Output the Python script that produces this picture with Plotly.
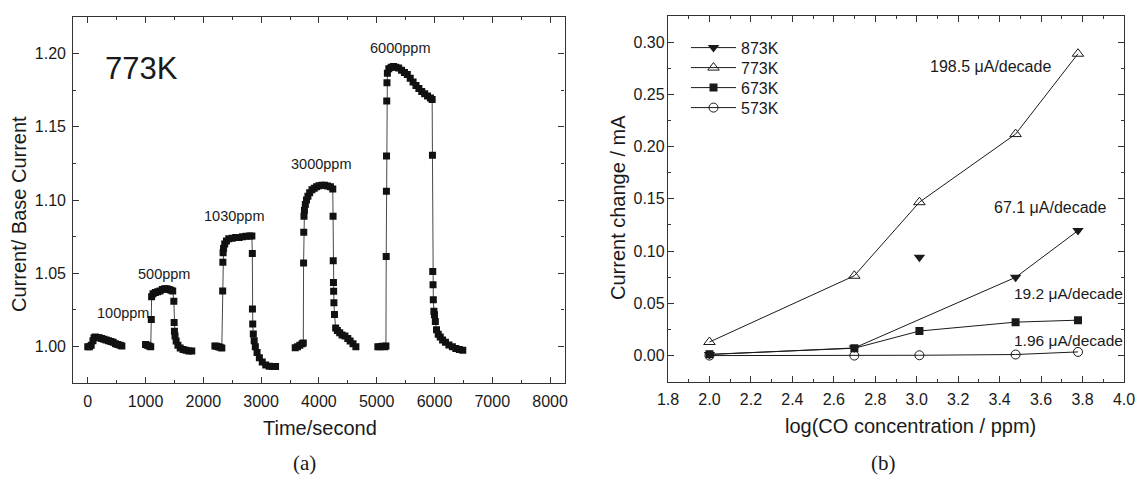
import plotly.graph_objects as go

W, H = 1138, 483

# ---------------- Panel (a): 773K response, time series ----------------
t_100ppm = [0, 30, 60, 90, 110, 130, 160, 200, 240, 280, 320, 360, 400, 440, 480, 520, 560, 590]
r_100ppm = [1.000, 1.000, 1.001, 1.004, 1.006, 1.0065, 1.0063, 1.006, 1.0055, 1.005, 1.0045, 1.004,
            1.0035, 1.003, 1.002, 1.0015, 1.001, 1.0005]

t_500ppm = [1000, 1030, 1060, 1090, 1100, 1105, 1130, 1170, 1210, 1250, 1290, 1330, 1370, 1410, 1440,
            1470, 1490, 1495, 1500, 1510, 1530, 1560, 1600, 1650, 1700, 1750, 1800]
r_500ppm = [1.0015, 1.001, 1.0005, 1.000, 1.0185, 1.034, 1.036, 1.037, 1.0375, 1.038, 1.039, 1.0395,
            1.0395, 1.039, 1.0385, 1.038, 1.031, 1.0165, 1.0105, 1.0072, 1.0038, 1.001, 0.999, 0.998,
            0.9975, 0.997, 0.997]

t_1030ppm = [2200, 2230, 2260, 2290, 2320, 2335, 2338, 2342, 2350, 2370, 2400, 2440, 2500, 2560, 2620,
             2680, 2740, 2800, 2840, 2848, 2850, 2855, 2865, 2880, 2900, 2930, 2970, 3020, 3080, 3140,
             3200, 3250]
r_1030ppm = [1.0005, 1.0003, 1.000, 0.9995, 0.999, 1.038, 1.0575, 1.064, 1.067, 1.070, 1.072, 1.0735,
             1.074, 1.0745, 1.0745, 1.075, 1.0752, 1.0755, 1.0755, 1.0635, 1.0257, 1.0155, 1.0087,
             1.004, 1.000, 0.996, 0.9925, 0.9895, 0.9875, 0.9866, 0.9865, 0.9865]

t_3000ppm = [3590, 3630, 3670, 3710, 3730, 3735, 3738, 3742, 3750, 3765, 3785, 3810, 3840, 3880, 3920,
             3960, 4000, 4050, 4100, 4150, 4200, 4240, 4245, 4248, 4252, 4255, 4260, 4270, 4290, 4320,
             4360, 4400, 4450, 4500, 4540, 4590, 4640]
r_3000ppm = [0.9993, 1.000, 1.001, 1.002, 1.0025, 1.057, 1.078, 1.089, 1.093, 1.097, 1.100, 1.1025,
             1.105, 1.107, 1.108, 1.109, 1.1098, 1.110, 1.110, 1.1095, 1.109, 1.1075, 1.089, 1.0585,
             1.0438, 1.0377, 1.030, 1.022, 1.0127, 1.011, 1.0095, 1.008, 1.0072, 1.0055, 1.0038,
             1.002, 1.000]

t_6000ppm = [5020, 5060, 5100, 5140, 5160, 5165, 5168, 5170, 5174, 5178, 5185, 5210, 5250, 5290, 5330,
             5380, 5430, 5480, 5530, 5580, 5630, 5680, 5730, 5780, 5830, 5880, 5930, 5960, 5965, 5970,
             5975, 5980, 5990, 6000, 6015, 6035, 6065, 6100, 6140, 6190, 6250, 6310, 6370, 6430, 6490]
r_6000ppm = [1.000, 1.000, 1.0002, 1.000, 1.0005, 1.0615, 1.106, 1.130, 1.1675, 1.180, 1.1865, 1.1895,
             1.1905, 1.191, 1.1905, 1.190, 1.1885, 1.187, 1.1855, 1.183, 1.1805, 1.178, 1.176, 1.174,
             1.1725, 1.171, 1.1695, 1.1685, 1.1305, 1.0513, 1.0422, 1.032, 1.0241, 1.0218, 1.0172,
             1.0116, 1.0085, 1.0066, 1.0045, 1.003, 1.0012, 1.000, 0.9988, 0.998, 0.9975]

segments = [(t_100ppm, r_100ppm), (t_500ppm, r_500ppm), (t_1030ppm, r_1030ppm),
            (t_3000ppm, r_3000ppm), (t_6000ppm, r_6000ppm)]
seg_labels = ["100ppm", "500ppm", "1030ppm", "3000ppm", "6000ppm"]

# ---------------- Panel (b): current change vs log concentration ----------------
log_conc = [2.0, 2.699, 3.013, 3.477, 3.778]
dI_873K = [0.001, 0.0073, 0.094, 0.0749, 0.1196]
dI_773K = [0.013, 0.0764, 0.1468, 0.212, 0.2889]
dI_673K = [0.0012, 0.0070, 0.0235, 0.0320, 0.0339]
dI_573K = [0.000, 0.000, 0.0003, 0.001, 0.0035]
on_line_873K = [True, True, False, True, True]   # the 3.0 point is not joined by the line
slopes = ["198.5 μA/decade", "67.1 μA/decade", "19.2 μA/decade", "1.96 μA/decade"]

INK = "#1a1a1a"
FONT = "Liberation Sans, Arial, sans-serif"

fig = go.Figure()

for t, r in segments:
    fig.add_trace(go.Scatter(x=t, y=r, mode="lines+markers", xaxis="x", yaxis="y",
                             line=dict(color="#333333", width=0.9),
                             marker=dict(symbol="square", size=7, color="#111111"),
                             showlegend=False, hoverinfo="x+y"))

# 873K: line through fitted points, plus outlier marker
xl = [x for x, k in zip(log_conc, on_line_873K) if k]
yl = [y for y, k in zip(dI_873K, on_line_873K) if k]
fig.add_trace(go.Scatter(x=xl, y=yl, mode="lines+markers", name="873K", xaxis="x2", yaxis="y2",
                         legend="legend",
                         line=dict(color=INK, width=1),
                         marker=dict(symbol="triangle-down", size=10, color=INK)))
fig.add_trace(go.Scatter(x=[x for x, k in zip(log_conc, on_line_873K) if not k],
                         y=[y for y, k in zip(dI_873K, on_line_873K) if not k],
                         mode="markers", xaxis="x2", yaxis="y2", showlegend=False,
                         marker=dict(symbol="triangle-down", size=10, color=INK)))
fig.add_trace(go.Scatter(x=log_conc, y=dI_773K, mode="lines+markers", name="773K", xaxis="x2", yaxis="y2",
                         legend="legend2",
                         line=dict(color=INK, width=1),
                         marker=dict(symbol="triangle-up-open", size=10, color=INK, line=dict(width=1))))
fig.add_trace(go.Scatter(x=log_conc, y=dI_673K, mode="lines+markers", name="673K", xaxis="x2", yaxis="y2",
                         legend="legend3",
                         line=dict(color=INK, width=1),
                         marker=dict(symbol="square", size=8, color=INK)))
fig.add_trace(go.Scatter(x=log_conc, y=dI_573K, mode="lines+markers", name="573K", xaxis="x2", yaxis="y2",
                         legend="legend4",
                         line=dict(color=INK, width=1),
                         marker=dict(symbol="circle-open", size=9, color=INK, line=dict(width=1))))


def px(x, y):
    return x / W, 1 - y / H


axis_common = dict(showline=True, linecolor="#333333", linewidth=1.3, mirror="allticks",
                   ticks="inside", ticklen=6, tickwidth=1.2, tickcolor="#333333",
                   showgrid=False, zeroline=False, automargin=False, ticklabeloverflow="allow",
                   tickfont=dict(family=FONT, size=16, color=INK))

lx0, _ = px(73.3, 0)
lx1, _ = px(564.5, 0)
_, ly0 = px(0, 383.3)
_, ly1 = px(0, 16.7)
rx0, _ = px(668, 0)
rx1, _ = px(1124, 0)
_, ry0 = px(0, 381.7)
_, ry1 = px(0, 16)


def legend_at(row_y):
    return dict(x=px(686, 0)[0], y=px(0, row_y - 16)[1], xanchor="left", yanchor="top",
                bgcolor="rgba(0,0,0,0)", borderwidth=0, itemwidth=45,
                font=dict(family=FONT, size=16, color=INK))


fig.update_layout(
    width=W, height=H,
    margin=dict(l=0, r=0, t=0, b=0, autoexpand=False),
    paper_bgcolor="white", plot_bgcolor="white",
    font=dict(family=FONT, color=INK),
    xaxis=dict(domain=[lx0, lx1], range=[-250, 8250], dtick=1000, tick0=0, anchor="y",
               minor=dict(dtick=500, ticks="inside", ticklen=3, tickcolor="#333333"),
               ticklabelstandoff=3, **axis_common),
    yaxis=dict(domain=[ly0, ly1], range=[0.975, 1.225], dtick=0.05, tick0=1.0, tickformat=".2f",
               anchor="x", minor=dict(dtick=0.025, ticks="inside", ticklen=3, tickcolor="#333333"),
               ticklabelstandoff=3, **axis_common),
    xaxis2=dict(domain=[rx0, rx1], range=[1.8, 4.0], dtick=0.2, tick0=1.8, tickformat=".1f", anchor="y2",
                minor=dict(dtick=0.1, ticks="inside", ticklen=3, tickcolor="#333333"),
                ticklabelstandoff=3, **axis_common),
    yaxis2=dict(domain=[ry0, ry1], range=[-0.025, 0.325], dtick=0.05, tick0=0, tickformat=".2f",
                anchor="x2", minor=dict(dtick=0.025, ticks="inside", ticklen=3, tickcolor="#333333"),
                ticklabelstandoff=-1, **axis_common),
    legend=legend_at(46.7),
    legend2=legend_at(66.7),
    legend3=legend_at(86.7),
    legend4=legend_at(106.7),
)

ann = []


def add_text(text, x, y, size, xanchor="center", family=FONT, angle=0):
    xp, yp = px(x, y)
    ann.append(dict(text=text, x=xp, y=yp, xref="paper", yref="paper", xanchor=xanchor,
                    yanchor="middle", showarrow=False, textangle=angle,
                    font=dict(family=family, size=size, color=INK)))


add_text("773K", 141, 68, 31)
seg_label_pos = [(122.5, 313), (164, 274), (234, 216), (321, 164), (400, 48)]
for lab, (x, y) in zip(seg_labels, seg_label_pos):
    add_text(lab, x, y, 14.5)

add_text("Time/second", 320, 428, 20)
add_text("Current/ Base Current", 19, 214, 20, angle=-90)
add_text("log(CO concentration / ppm)", 910, 426, 20)
add_text("Current change / mA", 618, 208, 20, angle=-90)

slope_pos = [(928, 66, 16), (992, 207, 16), (1012, 293, 15.5), (1012, 340, 15.5)]
for s, (x, y, fs) in zip(slopes, slope_pos):
    add_text(s, x, y, fs, xanchor="left")

add_text("(a)", 304, 463, 21, family="Liberation Serif, Times New Roman, serif")
add_text("(b)", 884, 463, 21, family="Liberation Serif, Times New Roman, serif")

fig.update_layout(annotations=ann)
fig.write_html("out.html",
               config={"displayModeBar": False},
               post_script="document.body.style.margin='0';document.body.style.padding='0';"
                           "window.dispatchEvent(new Event('resize'));")
